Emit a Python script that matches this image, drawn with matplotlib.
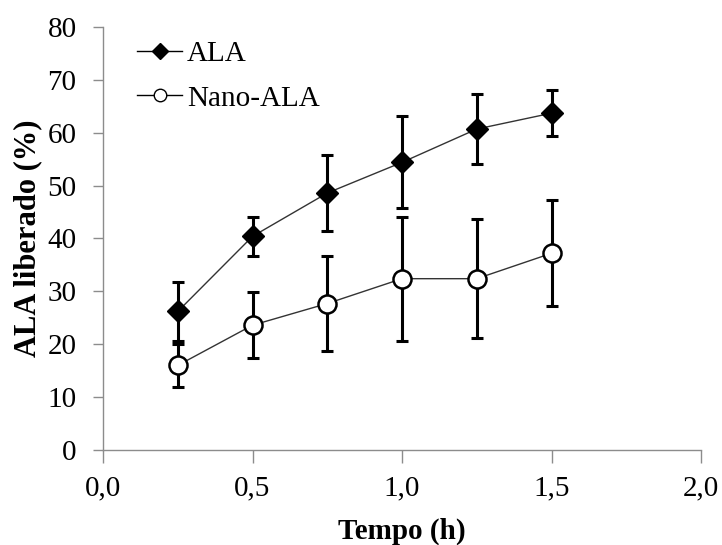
import matplotlib
matplotlib.use("Agg")
import matplotlib.pyplot as plt

plt.rcParams['font.family'] = ['Liberation Serif', 'DejaVu Serif']

tempo = [0.25, 0.5, 0.75, 1.0, 1.25, 1.5]
ala = [26.2, 40.4, 48.6, 54.4, 60.7, 63.7]
ala_err = [5.6, 3.7, 7.2, 8.7, 6.6, 4.3]
nano = [16.0, 23.6, 27.7, 32.4, 32.4, 37.2]
nano_err = [4.0, 6.2, 9.0, 11.7, 11.2, 10.0]

xticks = [0.0, 0.5, 1.0, 1.5, 2.0]
xticklabels = ["0,0", "0,5", "1,0", "1,5", "2,0"]
yticks = [0, 10, 20, 30, 40, 50, 60, 70, 80]

fig = plt.figure(figsize=(7.22, 5.45), dpi=100)
ax = fig.add_axes([103/722, 1-450/545, (701-103)/722, (450-27)/545])

ax.errorbar(tempo, ala, yerr=ala_err, fmt='none', ecolor='black', elinewidth=2.2,
            capsize=4, capthick=2.2, zorder=2)
ax.errorbar(tempo, nano, yerr=nano_err, fmt='none', ecolor='black', elinewidth=2.2,
            capsize=4, capthick=2.2, zorder=2)

ax.plot(tempo, ala, color='#333333', linewidth=1.0, zorder=3)
ax.plot(tempo, nano, color='#333333', linewidth=1.0, zorder=3)
ax.plot(tempo, ala, linestyle='none', marker='D', markersize=11, markerfacecolor='black',
        markeredgecolor='black', markeredgewidth=1.0, zorder=4)
ax.plot(tempo, nano, linestyle='none', marker='o', markersize=13, markerfacecolor='white',
        markeredgecolor='black', markeredgewidth=1.8, zorder=4)

# legend handles
h1, = ax.plot([], [], color='black', linewidth=1.0, marker='D', markersize=8,
              markerfacecolor='black', markeredgecolor='black')
h2, = ax.plot([], [], color='black', linewidth=1.0, marker='o', markersize=9,
              markerfacecolor='white', markeredgecolor='black', markeredgewidth=1.0)
ax.legend([h1, h2], ["ALA", "Nano-ALA"], loc='upper left', bbox_to_anchor=(0.023, 1.016),
          frameon=False, fontsize=21, handlelength=1.55, handletextpad=0.15,
          labelspacing=0.62, borderaxespad=0.3)

ax.set_xlim(0, 2.0)
ax.set_ylim(0, 80)
ax.set_xticks(xticks)
ax.set_xticklabels(xticklabels)
ax.set_yticks(yticks)

for s in ['top', 'right']:
    ax.spines[s].set_visible(False)
for s in ['left', 'bottom']:
    ax.spines[s].set_color('#8c8c8c')
    ax.spines[s].set_linewidth(1.0)

ax.tick_params(axis='both', direction='out', colors='#8c8c8c', labelcolor='black',
               labelsize=21, width=1.0)
ax.tick_params(axis='y', length=7, pad=12)
ax.tick_params(axis='x', length=9, pad=9)

ax.set_xlabel("Tempo (h)", fontsize=21, fontweight='bold', labelpad=12)
ax.set_ylabel("ALA liberado (%)", fontsize=22, fontweight='bold', labelpad=4)

fig.savefig("out.png", dpi=100)
